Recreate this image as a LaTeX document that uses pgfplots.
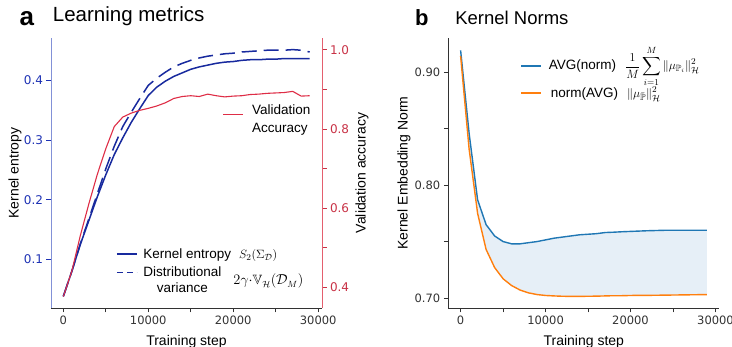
\documentclass[border=0pt]{standalone}
\usepackage[no-math]{fontspec}
\usepackage{amsmath,amssymb}
\usepackage{pgfplots}
\pgfplotsset{compat=1.18}
\usepackage{pgfplotstable}
\usepgfplotslibrary{fillbetween}
\setmainfont{Liberation Sans}
\newfontfamily\dejavu{DejaVu Sans}

\definecolor{kblue}{RGB}{24,42,158}
\definecolor{kbluetick}{RGB}{30,50,180}
\definecolor{kbluespine}{RGB}{130,145,215}
\definecolor{kred}{RGB}{222,45,70}
\definecolor{kredtick}{RGB}{200,50,70}
\definecolor{kredspine}{RGB}{228,95,110}
\definecolor{tabblue}{RGB}{31,119,180}
\definecolor{taborange}{RGB}{255,127,14}
\definecolor{fillblue}{RGB}{230,239,247}
\definecolor{spinegray}{RGB}{50,50,50}

\pgfplotstableread{
step ent var acc
0 0.038 0.038 0.376
1000 0.080 0.080 0.440
2000 0.125 0.126 0.530
3000 0.165 0.168 0.610
4000 0.205 0.210 0.685
5000 0.242 0.252 0.750
6000 0.276 0.290 0.806
7000 0.304 0.323 0.830
8000 0.330 0.347 0.840
9000 0.353 0.370 0.847
10000 0.375 0.392 0.852
11000 0.389 0.404 0.858
12000 0.399 0.414 0.866
13000 0.407 0.423 0.877
14000 0.413 0.429 0.882
15000 0.419 0.434 0.884
16000 0.423 0.438 0.882
17000 0.426 0.441 0.888
18000 0.429 0.443 0.884
19000 0.431 0.445 0.881
20000 0.432 0.446 0.883
21000 0.434 0.448 0.884
22000 0.435 0.449 0.887
23000 0.435 0.450 0.888
24000 0.436 0.451 0.890
25000 0.436 0.451 0.891
26000 0.437 0.451 0.892
27000 0.437 0.452 0.895
28000 0.437 0.451 0.883
29000 0.437 0.448 0.884
}\dataA

\pgfplotstableread{
step avgnorm normavg
0 0.9195 0.9145
1000 0.846 0.832
2000 0.787 0.775
3000 0.765 0.743
4000 0.755 0.727
5000 0.750 0.717
6000 0.748 0.711
7000 0.748 0.707
8000 0.749 0.7045
9000 0.750 0.703
10000 0.7515 0.7022
11000 0.753 0.7018
12000 0.754 0.7015
13000 0.755 0.7014
14000 0.756 0.7014
15000 0.7565 0.7015
16000 0.757 0.7016
17000 0.758 0.7018
18000 0.7583 0.7020
19000 0.7587 0.7020
20000 0.7590 0.7022
21000 0.7593 0.7023
22000 0.7596 0.7023
23000 0.7598 0.7024
24000 0.7600 0.7025
25000 0.7600 0.7026
26000 0.7600 0.7027
27000 0.7600 0.7028
28000 0.7600 0.7029
29000 0.7600 0.7030
}\dataB

\pgfplotsset{
  common/.style={
    scale only axis, width=271pt, height=270pt, anchor=south west,
    xmin=-1450, xmax=30450, clip=false,
    scaled x ticks=false, scaled y ticks=false,
    tick align=outside, major tick length=4.5pt,
    every tick/.style={line width=0.8pt},
    xtick={0,5000,10000,15000,20000,25000,30000},
    xticklabels={0,,10000,,20000,,30000},
    xticklabel style={font=\dejavu\fontsize{11.5}{12}\selectfont, text=spinegray},
    x tick style={draw=spinegray},
    every axis x label/.style={at={(axis description cs:0.5,-0.124)}, anchor=center,
      font=\fontsize{14}{16}\selectfont},
    legend cell align=left,
    legend image code/.code={\draw[##1] (0pt,0pt) -- (20pt,0pt);},
  },
  dashlegend/.style={
    legend image code/.code={\draw[##1, dash pattern=on 6pt off 4pt] (0pt,3.5pt) -- (20pt,3.5pt);},
  },
}

\begin{document}
\begin{tikzpicture}

% ---------- panel a : left axis ----------
\begin{axis}[common, at={(51pt,39pt)},
  ymin=0.0185, ymax=0.4715,
  axis x line*=bottom, axis y line*=left,
  x axis line style={-, draw=spinegray, line width=0.9pt},
  y axis line style={-, draw=kbluespine, line width=0.9pt},
  ytick={0.1,0.2,0.3,0.4}, yticklabels={0.1,0.2,0.3,0.4},
  yticklabel style={font=\dejavu\fontsize{12}{12}\selectfont, text=kbluetick},
  y tick style={draw=kbluetick},
  xlabel={Training step}, ylabel={Kernel entropy},
  every axis y label/.style={at={(axis description cs:-0.133,0.5)}, rotate=90, anchor=center,
    font=\fontsize{14}{16}\selectfont},
  legend style={at={(axis description cs:0.24,0.221)}, anchor=north west, draw=none, fill=none,
    inner sep=0pt, row sep=5.5pt, column sep=5.7pt,
    font=\fontsize{13.5}{16}\selectfont, nodes={inner sep=0pt}},
]
\addplot[kblue, line width=1.5pt] table[x=step, y=ent] {\dataA};
\addlegendentry{Kernel entropy\hspace{8pt}{\fontsize{13}{13}\selectfont$S_2(\Sigma_{\mathcal{D}})$}}
\addplot[kblue, line width=1.5pt, dash pattern=on 15pt off 7pt, dashlegend] table[x=step, y=var] {\dataA};
\addlegendentry{\begin{tabular}{@{}c@{}}Distributional\\variance\end{tabular}\hspace{12pt}{\fontsize{13.5}{14}\selectfont$2\gamma{\cdot}\mathbb{V}_{\mathcal{H}}(\mathcal{D}_M)$}}
\node[anchor=base west, font=\bfseries\fontsize{26}{26}\selectfont] at (axis description cs:-0.129,1.048) {a};
\node[anchor=base west, font=\fontsize{20.5}{22}\selectfont] at (axis description cs:-0.006,1.0604) {Learning metrics};
\end{axis}

% ---------- panel a : right axis ----------
\begin{axis}[common, at={(51pt,39pt)},
  ymin=0.347, ymax=1.030,
  axis x line=none, axis y line*=right,
  y axis line style={-, draw=kredspine, line width=0.9pt},
  ytick={0.4,0.5,0.6,0.7,0.8,0.9,1.0}, yticklabels={0.4,,0.6,,0.8,,1.0},
  yticklabel style={font=\dejavu\fontsize{12}{12}\selectfont, text=kredtick},
  y tick style={draw=kredtick},
  ylabel={Validation accuracy},
  every axis y label/.style={at={(axis description cs:1.148,0.5)}, rotate=90, anchor=center,
    font=\fontsize{14}{16}\selectfont},
  legend style={at={(axis description cs:0.6336,0.759)}, anchor=north west, draw=none, fill=none,
    inner sep=0pt, column sep=8pt,
    font=\fontsize{13.5}{16}\selectfont, nodes={inner sep=0pt}},
]
\addplot[kred, line width=1.1pt] table[x=step, y=acc] {\dataA};
\addlegendentry{\begin{tabular}{@{}l@{}}Validation\\[2pt]Accuracy\end{tabular}}
\end{axis}

% ---------- panel b ----------
\begin{axis}[common, at={(448.3pt,39pt)},
  ymin=0.6911, ymax=0.9305,
  axis x line*=bottom, axis y line*=left,
  axis line style={-, draw=spinegray, line width=0.9pt},
  ytick={0.70,0.75,0.80,0.85,0.90}, yticklabels={0.70,,0.80,,0.90},
  yticklabel style={font=\dejavu\fontsize{11.5}{12}\selectfont, text=spinegray},
  y tick style={draw=spinegray},
  xlabel={Training step}, ylabel={Kernel Embedding Norm},
  every axis y label/.style={at={(axis description cs:-0.1635,0.5)}, rotate=90, anchor=center,
    font=\fontsize{14}{16}\selectfont},
  legend style={at={(axis description cs:0.2646,0.919)}, anchor=north west, draw=none, fill=none,
    inner sep=0pt, row sep=16.2pt, column sep=7pt,
    font=\fontsize{13.5}{16}\selectfont, nodes={inner sep=0pt}},
]
\addplot[draw=none, name path=A, forget plot] table[x=step, y=avgnorm] {\dataB};
\addplot[draw=none, name path=B, forget plot] table[x=step, y=normavg] {\dataB};
\addplot[fill=fillblue, draw=none, forget plot] fill between[of=A and B];
\addplot[tabblue, line width=1.4pt, forget plot] table[x=step, y=avgnorm] {\dataB};
\addplot[taborange, line width=1.4pt, forget plot] table[x=step, y=normavg] {\dataB};
\addlegendimage{draw=tabblue, line width=1.6pt}
\addlegendentry{AVG(norm)\hspace{9pt}\smash{\fontsize{13}{14}\selectfont$\displaystyle\frac{1}{M}\sum_{i=1}^{M}\|\mu_{\mathbb{P}_i}\|^2_{\mathcal{H}}$}}
\addlegendimage{draw=taborange, line width=1.6pt}
\addlegendentry{\hspace{2pt}norm(AVG)\hspace{9pt}\smash{\fontsize{13}{14}\selectfont$\|\mu_{\bar{\mathbb{P}}}\|^2_{\mathcal{H}}$}}
\node[anchor=base west, font=\bfseries\fontsize{22}{22}\selectfont] at (axis description cs:-0.1358,1.048) {b};
\node[anchor=base west, font=\fontsize{18.5}{20}\selectfont] at (axis description cs:0.013,1.0518) {Kernel Norms};
\end{axis}

\pgfresetboundingbox
\path[use as bounding box] (0pt,0pt) rectangle (732pt,347pt);
\end{tikzpicture}
\end{document}
